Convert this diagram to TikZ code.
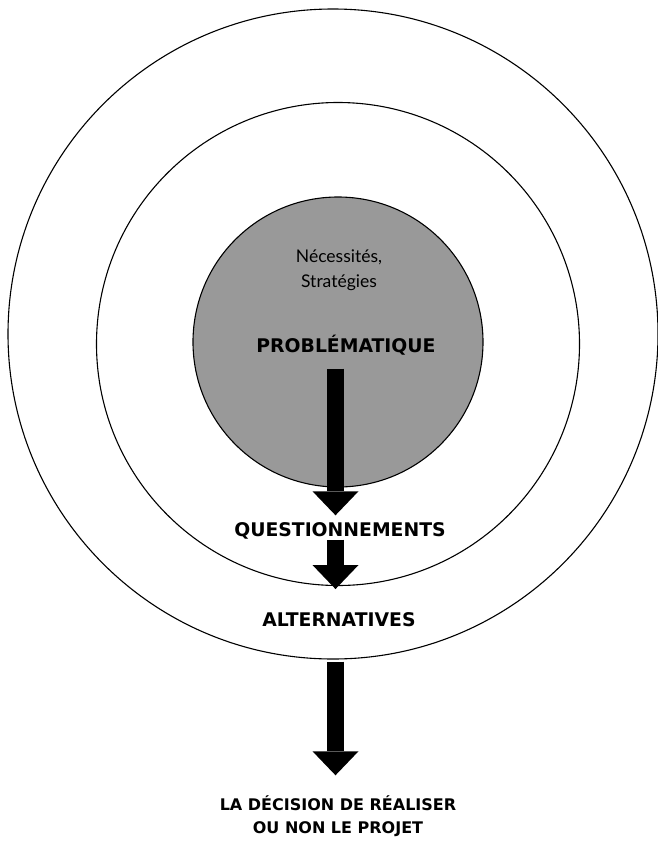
\documentclass[tikz,border=0pt]{standalone}
\usepackage{fontspec}
\setmainfont{Lato}
\newfontfamily\capsfont{DejaVu Sans}
\usepackage{tikz}
\usetikzlibrary{arrows.meta}

\tikzset{
	ring/.style={circle, draw=black, line width=1.1pt, inner sep=0pt},
	caps/.style={font=\capsfont\bfseries\fontsize{18.8}{20}\selectfont, inner sep=0pt, text height=13pt, text depth=0pt},
	bigarrow/.style={line width=17pt, -{Triangle[width=46pt, length=24pt, line width=0pt]}}
}

\begin{document}
\begin{tikzpicture}[x=1pt, y=-1pt]
			\useasboundingbox (0,0) rectangle (658,841);
			\coordinate (axis) at (335.5,0);
			
			\node[ring, minimum size=650pt] (outer) at (333,334){};
			\node[ring, minimum size=483pt] (middle) at (338,344){};
			\node[ring, fill=black!40, minimum size=290pt] (core) at (338,342){};
			
			\node[align=center, inner sep=0pt, font=\fontsize{17.5}{25}\selectfont] (needs) at (339,270){Nécessités,\\Stratégies};
			\node[caps] (prob) at (346,346){PROBLÉMATIQUE};
			\node[caps] (quest) at (340,530){QUESTIONNEMENTS};
			\node[caps] (alt) at (339,620){ALTERNATIVES};
			\node[align=center, inner sep=0pt, font=\capsfont\bfseries\fontsize{16}{23}\selectfont] (decision) at (338,816){LA DÉCISION DE RÉALISER\\OU NON LE PROJET};
			
			\draw[bigarrow] (prob.south -| axis) ++(0,16) -- ([yshift=8pt]quest.north -| axis);
			\draw[bigarrow] (quest.south -| axis) ++(0,3) -- ([yshift=-3pt]middle.south -| axis);
			\draw[bigarrow] (outer.south -| axis) ++(0,2) -- ([yshift=20pt]decision.north -| axis);
\end{tikzpicture}
\end{document}
